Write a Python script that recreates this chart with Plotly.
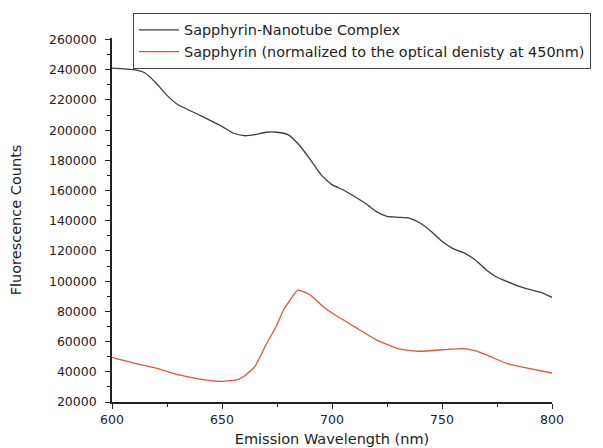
import plotly.graph_objects as go

wavelength_black = [600, 610, 615, 620, 625, 630, 640, 650, 655, 660, 665, 670, 675, 680, 685, 690,
                    695, 700, 705, 710, 715, 720, 725, 730, 735, 740, 745, 750, 755, 760, 765, 770,
                    775, 780, 785, 790, 795, 800]
complex_counts = [241100, 240000, 237800, 231200, 223000, 216800, 209800, 202500, 198100, 196300, 197000,
                  198600, 198600, 197000, 190300, 180800, 170500, 163900, 160500, 156200, 151700, 146200,
                  142900, 142300, 141800, 138500, 133000, 126400, 121500, 118700, 114200, 107600, 102600,
                  99500, 96600, 94400, 92600, 89300]

wavelength_red = [600, 610, 620, 630, 640, 650, 657, 660, 665, 670, 675, 678, 680, 684.5, 690, 695,
                  700, 710, 720, 730, 740, 750, 760, 765, 770, 780, 790, 800]
sapphyrin_counts = [49600, 45800, 42500, 38100, 35200, 33700, 34800, 37000, 43600, 57900, 71200, 81100,
                    85500, 94000, 91000, 84400, 78900, 70100, 61300, 55300, 53600, 54600, 55300, 54000,
                    51300, 45200, 42100, 39200]

FONT = "DejaVu Sans, Verdana, sans-serif"

fig = go.Figure()
fig.add_trace(go.Scatter(x=wavelength_black, y=complex_counts, mode="lines",
                         name="Sapphyrin-Nanotube Complex",
                         line=dict(color="#3c3c3c", width=1.3, shape="spline", smoothing=0.5)))
fig.add_trace(go.Scatter(x=wavelength_red, y=sapphyrin_counts, mode="lines",
                         name="Sapphyrin (normalized to the optical denisty at 450nm)",
                         line=dict(color="#e5533d", width=1.3, shape="spline", smoothing=0.5)))

fig.update_layout(
    width=603, height=448,
    margin=dict(l=104, r=59, t=30, b=54, autoexpand=False),
    paper_bgcolor="white", plot_bgcolor="white",
    font=dict(family=FONT, size=12, color="#222"),
    showlegend=True,
    legend=dict(x=(125 - 104) / 440, y=(394 - 5) / 364, xanchor="left", yanchor="top",
                bordercolor="#444", borderwidth=1, bgcolor="white", font=dict(size=14.4, family=FONT),
                tracegroupgap=0, itemwidth=40),
)

fig.update_xaxes(range=[600, 800], tickvals=[600, 650, 700, 750, 800], ticks="outside", ticklen=5,
                 tickwidth=1.3, tickcolor="#222", showline=True, linecolor="#222", linewidth=1.6,
                 showgrid=False, zeroline=False, tickfont=dict(size=12.5, family=FONT),
                 minor=dict(dtick=25, ticks="outside", ticklen=3, tickcolor="#222"),
                 title=dict(text="Emission Wavelength (nm)", font=dict(size=14.5, family=FONT), standoff=8))
fig.update_yaxes(range=[20000, 261000], tickvals=list(range(20000, 260001, 20000)), ticks="outside",
                 ticklen=5, tickwidth=1.3, tickcolor="#222", showline=True, linecolor="#222", linewidth=1.6,
                 showgrid=False, zeroline=False, tickfont=dict(size=12.5, family=FONT), tickformat="d",
                 ticklabelstandoff=6,
                 minor=dict(dtick=10000, ticks="outside", ticklen=3, tickcolor="#222"),
                 title=dict(text="Fluorescence Counts", font=dict(size=14.5, family=FONT), standoff=24))

fig.write_html("out.html")
